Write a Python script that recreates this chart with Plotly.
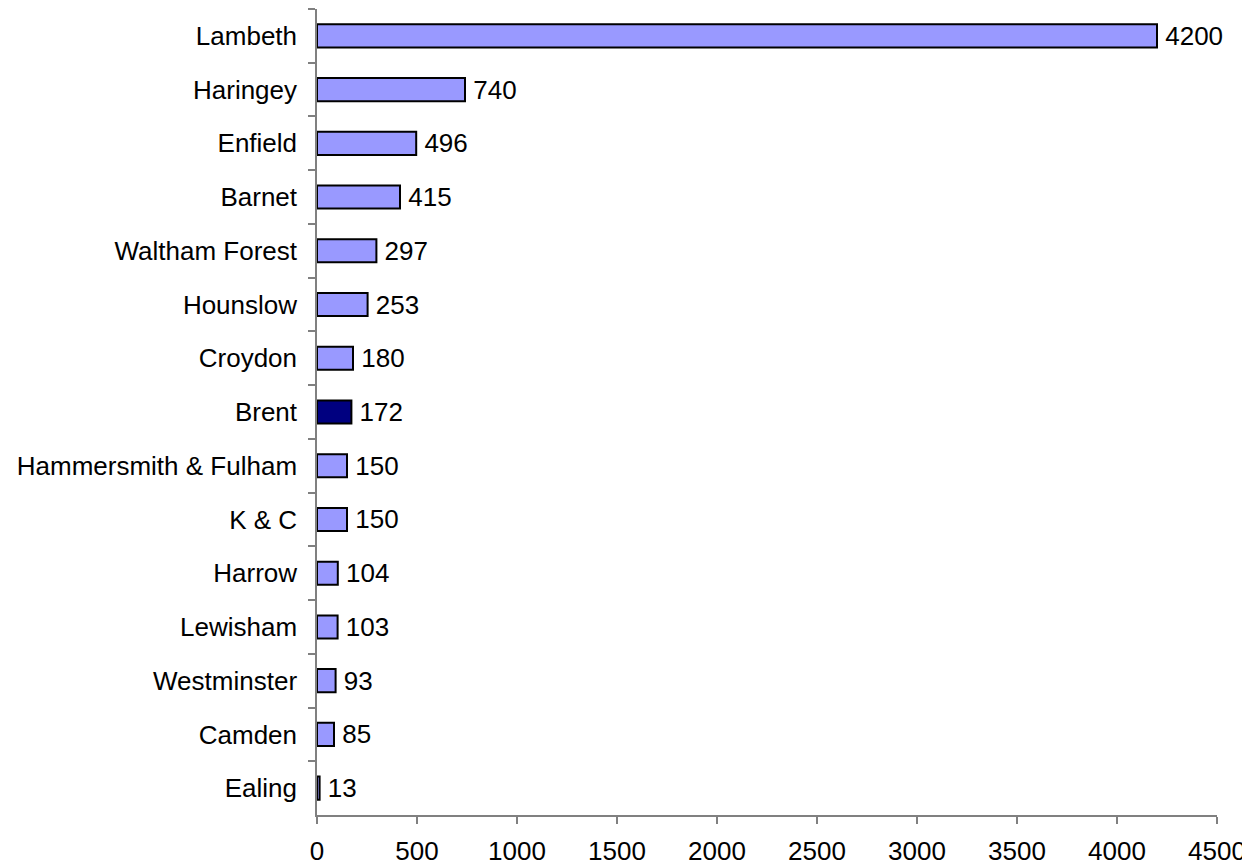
import plotly.graph_objects as go

boroughs = ["Lambeth", "Haringey", "Enfield", "Barnet", "Waltham Forest", "Hounslow",
            "Croydon", "Brent", "Hammersmith & Fulham", "K & C", "Harrow", "Lewisham",
            "Westminster", "Camden", "Ealing"]
values = [4200, 740, 496, 415, 297, 253, 180, 172, 150, 150, 104, 103, 93, 85, 13]
highlight = "Brent"

colors = ["#000080" if b == highlight else "#9999FF" for b in boroughs]
FONT = "Liberation Sans, Arial, sans-serif"

fig = go.Figure(go.Bar(
    y=boroughs,
    x=values,
    orientation="h",
    marker=dict(color=colors, line=dict(color="black", width=2)),
    text=[str(v) for v in values],
    texttemplate="\u2009%{text}",
    textposition="outside",
    textfont=dict(family=FONT, size=26, color="black"),
    cliponaxis=False,
    width=0.43,
))

fig.update_layout(
    width=1250, height=865,
    margin=dict(l=309, r=41, t=1, b=58, autoexpand=False),
    paper_bgcolor="white", plot_bgcolor="white",
    font=dict(family=FONT, size=26, color="black"),
    showlegend=False,
    uniformtext=dict(minsize=26, mode="show"),
)
fig.update_xaxes(
    range=[0, 4500], dtick=500, tick0=0,
    showgrid=False, zeroline=False,
    showline=True, linecolor="#808080", linewidth=1.5,
    ticks="outside", ticklen=7, tickcolor="#808080", tickwidth=1.5,
    tickfont=dict(family=FONT, size=26, color="black"),
    ticklabelstandoff=5,
    automargin=False,
)
fig.update_yaxes(
    autorange="reversed", type="category",
    showgrid=False, zeroline=False,
    showline=True, linecolor="#808080", linewidth=1.5,
    ticks="outside", ticklen=7, tickcolor="#808080", tickwidth=1.5,
    tickson="boundaries",
    tickfont=dict(family=FONT, size=26, color="black"),
    ticklabelstandoff=13,
    automargin=False,
)

fig.write_html("out.html")
